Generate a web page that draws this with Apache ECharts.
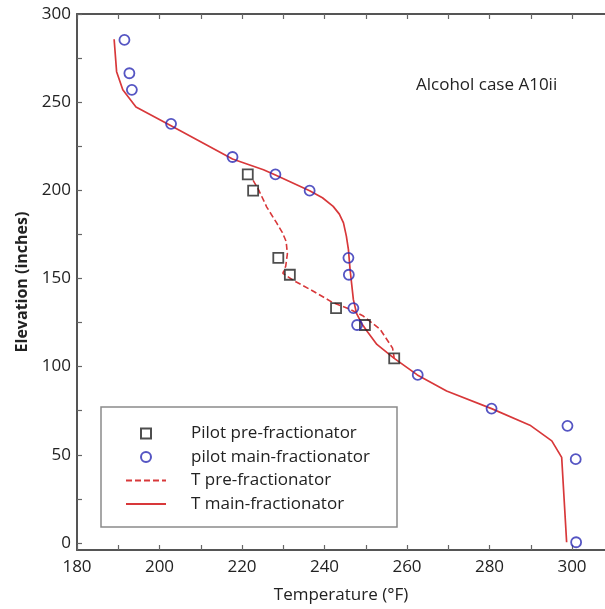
<!DOCTYPE html>
<html>
<head>
<meta charset="utf-8">
<script src="https://cdn.jsdelivr.net/npm/echarts@6/dist/echarts.min.js"></script>
<style>
html,body{margin:0;padding:0;background:#fff;}
#chart{width:605px;height:609px;}
</style>
</head>
<body>
<div id="chart"></div>
<script>
// Measured points: pilot pre-fractionator (squares)
var preT = [221.4, 222.7, 228.8, 231.6, 242.8, 249.8, 256.9];
var preE = [209.0, 199.8, 161.7, 152.1, 133.2, 123.6, 104.7];
// Measured points: pilot main-fractionator (circles)
var mainT = [191.5, 192.7, 193.3, 202.8, 217.7, 228.1, 236.4, 245.8, 245.9, 247.0, 247.9, 262.6, 280.5, 298.9, 300.9, 301.0];
var mainE = [285.3, 266.4, 257.0, 237.7, 218.9, 209.0, 199.8, 161.7, 152.1, 133.2, 123.6, 95.3, 76.2, 66.4, 47.5, 0.4];
// Simulated profile: T pre-fractionator (dashed)
var preLineT = [222.7, 224.0, 226.0, 228.4, 229.8, 230.7, 231.0, 230.6, 229.9, 232.4, 237.5, 242.1, 246.2, 249.4, 253.5, 256.5, 256.9];
var preLineE = [205.6, 200.4, 190.5, 181.5, 176.0, 171.0, 164.0, 157.0, 152.9, 149.0, 142.5, 136.2, 132.5, 128.7, 121.1, 110.5, 104.7];
// Simulated profile: T main-fractionator (solid)
var mainLineT = [189.0, 189.6, 191.1, 194.3, 202.8, 217.7, 225.2, 228.1, 236.4, 239.5, 242.1, 243.6, 244.6, 245.3, 245.8, 246.2, 247.0, 247.8, 249.0, 250.5, 252.7, 256.9, 262.5, 269.6, 280.5, 289.8, 295.1, 297.5, 298.7];
var mainLineE = [285.7, 267.3, 257.0, 247.2, 236.6, 217.8, 211.7, 208.7, 199.8, 195.8, 190.9, 186.5, 181.5, 174.0, 166.4, 155.1, 138.0, 130.0, 124.5, 119.5, 112.6, 104.7, 95.3, 86.2, 76.2, 66.8, 57.9, 48.5, 0.4];
// Axis ticks and labels
var xTicks = [180, 190, 200, 210, 220, 230, 240, 250, 260, 270, 280, 290, 300];
var xLabels = [180, 200, 220, 240, 260, 280, 300];
var yTicks = [0, 25, 50, 75, 100, 125, 150, 175, 200, 225, 250, 275, 300];
var yLabels = [0, 50, 100, 150, 200, 250, 300];
var seriesNames = ['Pilot pre-fractionator', 'pilot main-fractionator', 'T pre-fractionator', 'T main-fractionator'];

function zip(a, b) { return a.map(function (v, i) { return [v, b[i]]; }); }

var FONT = 'Open Sans';
var RED = '#d8383a';
var chart = echarts.init(document.getElementById('chart'), null, { renderer: 'canvas' });

var axisLineStyle = { color: '#555', width: 2 };
var tickStyle = { color: '#666', width: 1.2 };

var option = {
  animation: false,
  backgroundColor: '#fff',
  grid: { left: 77, right: 0, top: 14, bottom: 58, containLabel: false },
  title: {
    text: 'Alcohol case A10ii',
    left: 416, top: 77, padding: 0,
    textStyle: { fontFamily: FONT, fontSize: 17, fontWeight: 'normal', color: '#222' }
  },
  legend: {
    orient: 'vertical',
    left: 125, top: 425, padding: 0,
    itemWidth: 40, itemHeight: 10, itemGap: 6.5,
    symbolKeepAspect: true,
    data: [
      { name: seriesNames[0], icon: 'path://M0,0L10,0L10,10L0,10Z' },
      { name: seriesNames[1], icon: 'circle' },
      { name: seriesNames[2] },
      { name: seriesNames[3] }
    ],
    textStyle: { fontFamily: FONT, fontSize: 17, color: '#222', lineHeight: 14, padding: [0, 0, 0, 20] }
  },
  graphic: [{
    type: 'rect', z: 3,
    shape: { x: 101, y: 407, width: 296, height: 120 },
    style: { fill: '#fff', stroke: '#8a8a8a', lineWidth: 1.5 }
  }],
  xAxis: [{
    type: 'value', position: 'bottom', min: 180, max: 308,
    name: 'Temperature (°F)', nameLocation: 'middle', nameGap: 37,
    nameTextStyle: { fontFamily: FONT, fontSize: 17, color: '#222' },
    axisLine: { show: true, onZero: false, lineStyle: axisLineStyle },
    axisTick: { show: true, inside: true, length: 5, lineStyle: tickStyle, customValues: xTicks },
    axisLabel: { fontFamily: FONT, fontSize: 17, color: '#222', margin: 9, customValues: xLabels },
    splitLine: { show: false }
  }, {
    type: 'value', position: 'top', min: 180, max: 308,
    axisLine: { show: true, onZero: false, lineStyle: axisLineStyle },
    axisTick: { show: true, inside: true, length: 5, lineStyle: tickStyle, customValues: xTicks },
    axisLabel: { show: false },
    splitLine: { show: false }
  }],
  yAxis: {
    type: 'value', min: -4, max: 300,
    name: 'Elevation (inches)', nameLocation: 'middle', nameGap: 47,
    nameTextStyle: { fontFamily: FONT, fontSize: 16, fontWeight: 'bold', color: '#222' },
    axisLine: { show: true, onZero: false, lineStyle: axisLineStyle },
    axisTick: { show: true, inside: true, length: 5, lineStyle: tickStyle, customValues: yTicks },
    axisLabel: { fontFamily: FONT, fontSize: 17, color: '#222', margin: 6, customValues: yLabels },
    splitLine: { show: false }
  },
  series: [{
    name: seriesNames[0], type: 'scatter', symbol: 'rect', symbolSize: 10, z: 5,
    itemStyle: { color: 'rgba(255,255,255,0)', borderColor: '#222', borderWidth: 1.8 },
    data: zip(preT, preE)
  }, {
    name: seriesNames[1], type: 'scatter', symbol: 'circle', symbolSize: 10, z: 5,
    itemStyle: { color: 'rgba(255,255,255,0)', borderColor: '#2a2ab4', borderWidth: 1.8 },
    data: zip(mainT, mainE)
  }, {
    name: seriesNames[2], type: 'line', symbol: 'none', z: 4,
    lineStyle: { color: RED, width: 1.6, type: [6, 3] },
    itemStyle: { color: 'rgba(0,0,0,0)', borderWidth: 0 },
    data: zip(preLineT, preLineE)
  }, {
    name: seriesNames[3], type: 'line', symbol: 'none', z: 4,
    lineStyle: { color: RED, width: 1.7, type: 'solid' },
    itemStyle: { color: 'rgba(0,0,0,0)', borderWidth: 0 },
    data: zip(mainLineT, mainLineE)
  }]
};
chart.setOption(option);
</script>
</body>
</html>
